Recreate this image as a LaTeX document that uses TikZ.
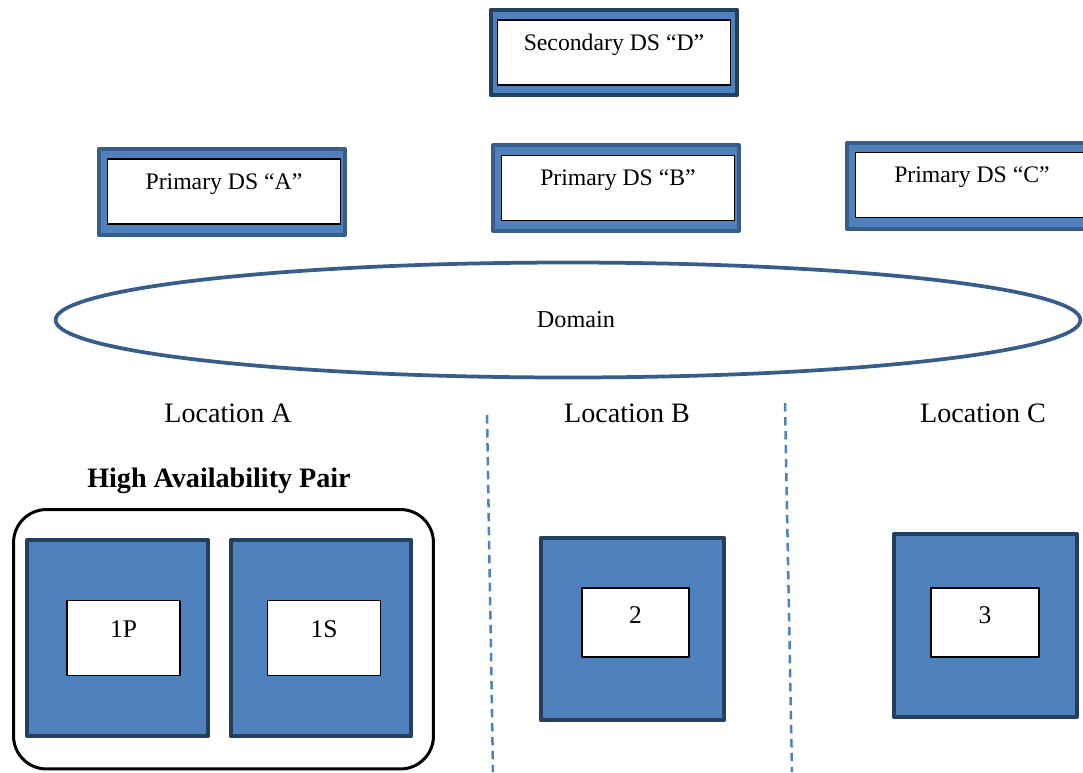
\documentclass[tikz,border=0pt]{standalone}
\usepackage{fontspec}
\setmainfont{Liberation Serif}
\definecolor{boxblue}{HTML}{4F81BD}
\definecolor{rimdark}{HTML}{243F60}
\definecolor{rimmid}{HTML}{385D8A}
\tikzset{
  dsframe/.style={draw=rimmid, fill=boxblue, line width=0.08cm, minimum width=4.92cm, minimum height=1.72cm, inner sep=0},
  dsbox/.style={draw=black, fill=white, line width=0.6pt, minimum width=4.66cm, inner sep=0, text height=0.6cm, text depth=0.7cm, font=\fontsize{13.5}{16}\selectfont},
  bigframe/.style={draw=rimdark, fill=boxblue, line width=0.08cm, minimum width=3.68cm, minimum height=3.64cm, inner sep=0},
  numbox/.style={draw=black, fill=white, line width=0.6pt, minimum width=2.14cm, inner sep=0, text height=0.7cm, text depth=0.68cm, font=\fontsize{14.5}{17}\selectfont},
  loclabel/.style={anchor=base, font=\fontsize{16}{19}\selectfont},
  sitesplit/.style={draw=boxblue, line width=0.05cm, dash pattern=on 0.17cm off 0.11cm}
}
\begin{document}
\begin{tikzpicture}[x=0.02cm, y=-0.02cm, line join=round]
\useasboundingbox (0,0) rectangle (1083,772);
\clip (0,0) rectangle (1083,772);
\node[dsframe, draw=rimdark] (dFrame) at (614,52.5) {};
\node[dsbox] (dBox) at (614,52.5) {Secondary DS “D”};
\node[dsframe] (aFrame) at (222,192) {};
\node[dsbox] (aBox) at (224,191.5) {Primary DS “A”};
\node[dsframe] (bFrame) at (616,188) {};
\node[dsbox] (bBox) at (618,188) {Primary DS “B”};
\node[dsframe] (cFrame) at (970,186) {};
\node[dsbox] (cBox) at (972,185) {Primary DS “C”};
\draw[rimmid, line width=0.075cm] (568,320) ellipse [x radius=10.25cm, y radius=1.15cm];
\node[anchor=base, font=\fontsize{13.8}{16}\selectfont] (domain) at (576,327) {Domain};
\node[loclabel] (locA) at (228,422) {Location A};
\node[loclabel] (locB) at (627,422) {Location B};
\node[loclabel] (locC) at (983,422) {Location C};
\coordinate (splitABtop) at (487,415); \coordinate (splitABbot) at (493,772);
\coordinate (splitBCtop) at (785,403); \coordinate (splitBCbot) at (792,772);
\draw[sitesplit] (splitABtop) -- (splitABbot);
\draw[sitesplit] (splitBCtop) -- (splitBCbot);
\node[loclabel, font=\fontsize{16}{19}\selectfont\bfseries] (haTitle) at (219,487) {High Availability Pair};
\node[draw=black, line width=0.06cm, rounded corners=0.66cm, minimum width=8.4cm, minimum height=5.19cm, inner sep=0] (haPair) at (223.5,639.25) {};
\node[bigframe, minimum width=3.62cm, minimum height=3.92cm] (pFrame) at (117.5,638) {};
\node[numbox, minimum width=2.26cm, text height=0.74cm, text depth=0.76cm] (pBox) at (123.5,638) {1P};
\node[bigframe, minimum width=3.62cm, minimum height=3.92cm] (sFrame) at (321,638) {};
\node[numbox, minimum width=2.26cm, text height=0.74cm, text depth=0.76cm] (sBox) at (324,638) {1S};
\node[bigframe] (twoFrame) at (632.5,629) {};
\node[numbox] (twoBox) at (635.5,622.5) {2};
\node[bigframe, minimum width=3.66cm, minimum height=3.66cm] (threeFrame) at (985.5,625.5) {};
\node[numbox, minimum width=2.16cm] (threeBox) at (985,622.5) {3};
\end{tikzpicture}
\end{document}
